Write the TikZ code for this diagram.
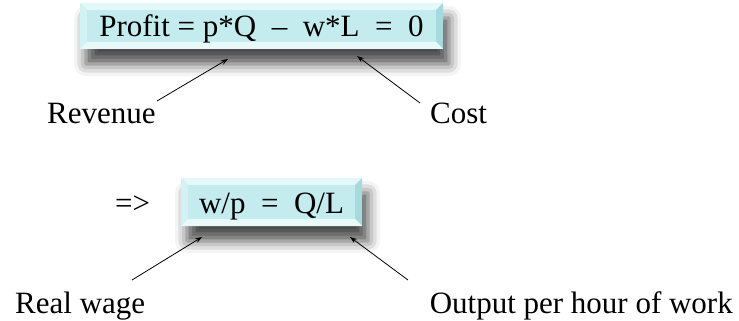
\documentclass[tikz,border=0pt]{standalone}
\usepackage{fontspec}
\setmainfont{Liberation Serif}
\usetikzlibrary{shadows.blur,arrows.meta}
\definecolor{boxfill}{HTML}{C4EBEE}
\definecolor{beveltop}{HTML}{E2F8F9}
\definecolor{bevelleft}{HTML}{D2F2F3}
\definecolor{bevelright}{HTML}{A6DADD}
\definecolor{bevelbottom}{HTML}{E8F9F9}
\tikzset{
  bevelbox/.style={draw=none, fill=boxfill, inner sep=0pt, text height=22pt, text depth=0pt,
    blur shadow={shadow xshift=6pt, shadow yshift=-15pt, shadow blur radius=12pt, shadow opacity=70},
    path picture={
      \fill[beveltop] (path picture bounding box.north west) -- (path picture bounding box.north east)
        -- ([shift={(-7pt,-7pt)}]path picture bounding box.north east) -- ([shift={(7pt,-7pt)}]path picture bounding box.north west) -- cycle;
      \fill[bevelleft] (path picture bounding box.north west) -- (path picture bounding box.south west)
        -- ([shift={(7pt,7pt)}]path picture bounding box.south west) -- ([shift={(7pt,-7pt)}]path picture bounding box.north west) -- cycle;
      \fill[bevelright] (path picture bounding box.north east) -- (path picture bounding box.south east)
        -- ([shift={(-7pt,7pt)}]path picture bounding box.south east) -- ([shift={(-7pt,-7pt)}]path picture bounding box.north east) -- cycle;
      \fill[bevelbottom] (path picture bounding box.south west) -- (path picture bounding box.south east)
        -- ([shift={(-7pt,7pt)}]path picture bounding box.south east) -- ([shift={(7pt,7pt)}]path picture bounding box.south west) -- cycle;
    }},
  lbl/.style={inner sep=0pt},
  pointer/.style={-{Stealth[length=7pt,width=5pt]}, line width=0.8pt, black}
}
\begin{document}
\begin{tikzpicture}[x=1pt,y=-1pt,font=\fontsize{31}{36}\selectfont]
\useasboundingbox (0,0) rectangle (739,321);
\node[bevelbox, minimum width=363pt, minimum height=46pt] (profit) at (261.5,26) {Profit = p*Q~~–~~w*L~~=~~0};
\node[bevelbox, minimum width=181pt, minimum height=48pt] (ratio) at (271.5,202) {w/p~~=~~Q/L};
\node[lbl, anchor=base west] (implies) at (115,213) {=>};
\node[lbl, anchor=base west] (revenue) at (47,123) {Revenue};
\node[lbl, anchor=base west] (cost) at (430,123) {Cost};
\node[lbl, anchor=base west] (realwage) at (15,313) {Real wage};
\node[lbl, anchor=base east] (output) at (733,313) {Output per hour of work};
\coordinate (revtail) at (157,101);
\coordinate (revtip) at (228,59);
\coordinate (costtail) at (420,103);
\coordinate (costtip) at (357,56);
\coordinate (realtail) at (132,280);
\coordinate (realtip) at (202,237);
\coordinate (outtail) at (408,280);
\coordinate (outtip) at (350,237);
\draw[pointer] (revtail) -- (revtip);
\draw[pointer] (costtail) -- (costtip);
\draw[pointer] (realtail) -- (realtip);
\draw[pointer] (outtail) -- (outtip);
\end{tikzpicture}
\end{document}
